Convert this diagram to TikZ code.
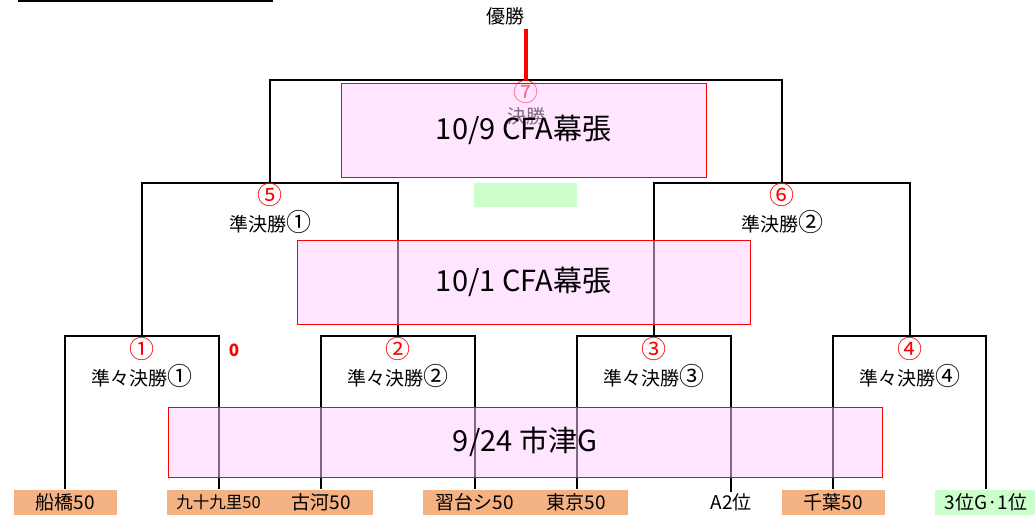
\documentclass[tikz,border=0pt]{standalone}
\usepackage{fontspec}
\setmainfont{Noto Sans CJK JP}
\usetikzlibrary{positioning}
\definecolor{venuepink}{HTML}{FFCCFF}
\definecolor{teamorange}{HTML}{F4B183}
\definecolor{seedgreen}{HTML}{CCFFCC}
\newcommand{\cnum}[1]{{\fontsize{25}{19}\selectfont #1}}
\tikzstyle{team} = [rectangle,
                    minimum width=103pt,
                    minimum height=25pt,
                    inner sep=0pt,
                    fill=teamorange,
                    font=\fontsize{19}{19}\selectfont]
\tikzstyle{plain} = [inner sep=1pt,
                    font=\fontsize{19}{19}\selectfont]
\tikzstyle{num} = [inner sep=0pt,
                    text=red,
                    font=\fontsize{25}{25}\selectfont]
\tikzstyle{venue} = [rectangle,
                    draw=red,
                    fill=venuepink,
                    fill opacity=0.5,
                    text opacity=1,
                    font=\fontsize{29}{29}\selectfont]
\tikzstyle{bracket} = [line width=2pt]

\begin{document}
\begin{tikzpicture}[x=1pt, y=-1pt,
                      node distance=2pt]
    \useasboundingbox (0,0) rectangle (1035,517);
    \draw[line width=3.4pt] (18,0) -- (273,0);
    % teams
    \node (t1) at (65,502) [team] {船橋50};
    \node (t2) at (218.5,502) [team, font=\fontsize{16.5}{16.5}\selectfont] {九十九里50};
    \node (t3) at (321,502) [team] {古河50};
    \node (t4) at (474.5,502) [team] {習台シ50};
    \node (t5) at (576.5,502) [team] {東京50};
    \node (t6) at (731,502) [plain] {A2位};
    \node (t7) at (833,502) [team] {千葉50};
    \node (t8) at (986,502) [team, fill=seedgreen] {3位G·1位};
    % joints
    \coordinate (j1) at (141.5,336);
    \coordinate (j2) at (398,336);
    \coordinate (j3) at (654,336);
    \coordinate (j4) at (909.5,336);
    \coordinate (j5) at (270,183);
    \coordinate (j6) at (782,183);
    \coordinate (j7) at (526,80);
    \node (win) at (505,16) [plain] {優勝};
    \draw[bracket] (t1.north) |- (j1) -| (t2.north);
    \draw[bracket] (t3.north) |- (j2) -| (t4.north);
    \draw[bracket] (t5.north) |- (j3) -| (t6.north);
    \draw[bracket] (t7.north) |- (j4) -| (t8.north);
    \draw[bracket] (j1) |- (j5) -| (j2);
    \draw[bracket] (j3) |- (j6) -| (j4);
    \draw[bracket] (j5) |- (j7) -| (j6);
    \draw[line width=3.3pt, red] (j7) -- (526,29);
    % matches
    \node (m1) at (141.5,349) [num] {①};
    \node (n1) [below =of m1] [plain] {準々決勝\cnum{①}};
    \node (m2) at (398,349) [num] {②};
    \node (n2) [below =of m2] [plain] {準々決勝\cnum{②}};
    \node (m3) at (654,349) [num] {③};
    \node (n3) [below =of m3] [plain] {準々決勝\cnum{③}};
    \node (m4) at (909.5,349) [num] {④};
    \node (n4) [below =of m4] [plain] {準々決勝\cnum{④}};
    \node (m5) at (270,195) [num] {⑤};
    \node (n5) [below =of m5] [plain] {準決勝\cnum{①}};
    \node (m6) at (782,195) [num] {⑥};
    \node (n6) [below =of m6] [plain] {準決勝\cnum{②}};
    \node (m7) at (526,92) [num] {⑦};
    \node (n7) [below =of m7] [plain] {決勝};
    \node (score) at (234,350) [text=red, font=\fontsize{17}{17}\selectfont\bfseries] {0};
    \node (gap) at (525.5,195) [rectangle, fill=seedgreen, minimum width=103pt, minimum height=24pt] {};
    % venues
    \node (v1) at (523.5,130) [venue, minimum width=365pt, minimum height=94pt] {10/9 CFA幕張};
    \node (v2) at (523.5,282) [venue, minimum width=453pt, minimum height=84pt] {10/1 CFA幕張};
    \node (v3) at (525,442) [venue, minimum width=714pt, minimum height=70pt] {9/24 市津G};
  \end{tikzpicture}
\end{document}
